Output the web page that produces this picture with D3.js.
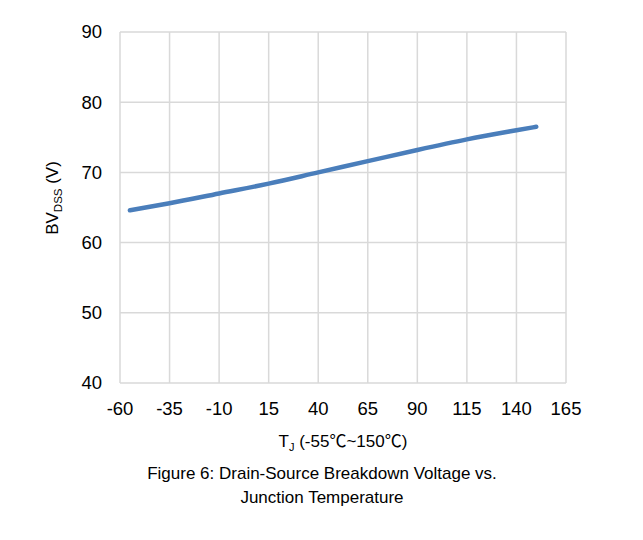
<!DOCTYPE html>
<html>
<head>
<meta charset="utf-8">
<script src="https://cdn.jsdelivr.net/npm/d3@7"></script>
<style>
  body { margin: 0; background: #fff; }
  svg { font-family: "Liberation Sans", Arial, sans-serif; }
</style>
</head>
<body>
<div id="chart"></div>
<script>
const temps = [-55, -35, -10, 15, 40, 65, 90, 115, 140, 150]
const bvdss = [64.6, 65.6, 67.0, 68.4, 70.0, 71.6, 73.2, 74.7, 76.0, 76.5]
const xTicks = [-60, -35, -10, 15, 40, 65, 90, 115, 140, 165]
const yTicks = [40, 50, 60, 70, 80, 90]

const width = 643
const height = 540
const margin = { top: 32, right: 77, bottom: 157, left: 120 }

const svg = d3.select('#chart').append('svg')
  .attr('width', width)
  .attr('height', height)

const x = d3.scaleLinear().domain([-60, 165]).range([margin.left, width - margin.right])
const y = d3.scaleLinear().domain([40, 90]).range([height - margin.bottom, margin.top])

// grid
const grid = svg.append('g').attr('stroke', '#d9d9d9').attr('stroke-width', 1.5)
grid.selectAll('.vx').data(xTicks).join('line')
  .attr('x1', d => x(d)).attr('x2', d => x(d))
  .attr('y1', y(40)).attr('y2', y(90))
grid.selectAll('.hy').data(yTicks).join('line')
  .attr('x1', x(-60)).attr('x2', x(165))
  .attr('y1', d => y(d)).attr('y2', d => y(d))

// tick labels
svg.append('g').selectAll('text').data(xTicks).join('text')
  .attr('x', d => x(d))
  .attr('y', y(40) + 32)
  .attr('text-anchor', 'middle')
  .attr('font-size', 18.5)
  .attr('fill', '#000')
  .text(d => d)

svg.append('g').selectAll('text').data(yTicks).join('text')
  .attr('x', x(-60) - 18)
  .attr('y', d => y(d))
  .attr('dy', '0.35em')
  .attr('text-anchor', 'end')
  .attr('font-size', 18.5)
  .attr('fill', '#000')
  .text(d => d)

// data line
const line = d3.line()
  .x((d, i) => x(temps[i]))
  .y(d => y(d))
  .curve(d3.curveMonotoneX)

svg.append('path')
  .datum(bvdss)
  .attr('fill', 'none')
  .attr('stroke', '#4a7ebb')
  .attr('stroke-width', 4.5)
  .attr('stroke-linecap', 'round')
  .attr('d', line)

// x axis title
const cjk = '"Noto Sans CJK SC", sans-serif'
const xt = svg.append('text')
  .attr('x', (x(-60) + x(165)) / 2)
  .attr('y', 447)
  .attr('text-anchor', 'middle')
  .attr('font-size', 17)
xt.append('tspan').text('T')
xt.append('tspan').attr('font-size', 11).attr('dy', 4).text('J')
xt.append('tspan').attr('dy', -4).text(' (-55')
xt.append('tspan').attr('font-family', cjk).text('℃')
xt.append('tspan').text('~150')
xt.append('tspan').attr('font-family', cjk).text('℃')
xt.append('tspan').text(')')

// y axis title
const yt = svg.append('text')
  .attr('transform', `translate(58, 198) rotate(-90)`)
  .attr('text-anchor', 'middle')
  .attr('font-size', 17)
yt.append('tspan').text('BV')
yt.append('tspan').attr('font-size', 11.5).attr('dy', 4).text('DSS')
yt.append('tspan').attr('dy', -4).text(' (V)')

// caption
const caption = ['Figure 6: Drain-Source Breakdown Voltage vs.', 'Junction Temperature']
svg.append('g').selectAll('text').data(caption).join('text')
  .attr('x', 322)
  .attr('y', (d, i) => 479 + i * 24)
  .attr('text-anchor', 'middle')
  .attr('font-size', 17)
  .text(d => d)
</script>
</body>
</html>
